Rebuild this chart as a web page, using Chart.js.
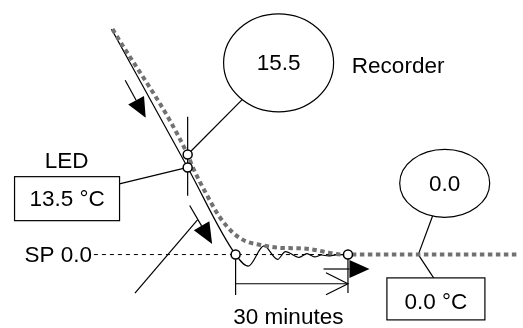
<!DOCTYPE html>
<html>
<head>
<meta charset="utf-8">
<script src="https://cdn.jsdelivr.net/npm/chart.js@4"></script>
<style>
  html, body { margin: 0; padding: 0; background: #fff; }
  canvas { display: block; }
</style>
</head>
<body>
<canvas id="c" width="523" height="328"></canvas>
<script>
// Time in minutes (0 = trace first reaches the set point), temperature in °C.
const ledTime = [-33.13, -12.8, 0, 3.39, 7.57, 11.22, 13.30, 16.96, 19.04, 21.13, 22.96, 24.78, 26.87, 30];
const ledTemp = [34.93, 13.5, 0, -1.79, 1.34, -0.75, 0.45, -0.45, 0.15, -0.37, -0.07, -0.22, -0.04, 0];

const recTime = [-32.87, -12.8, -11.48, -7.83, -4.43, -0.78, 2.61, 6.78, 11.74, 16.96, 20.87, 24.78, 28.17, 75.13];
const recTemp = [34.93, 15.5, 13.58, 9.40, 5.97, 3.43, 2.09, 1.49, 1.04, 0.97, 0.75, 0.30, 0, 0];

const readTime = -12.8;
const recorderReading = 15.5;
const ledReading = 13.5;
const setPoint = 0.0;
const settleMinutes = 30;
const finalTime = 48.78;
const finalRecorder = 0.0;
const finalLed = 0.0;

const markerTime = [readTime, readTime, 0, settleMinutes];
const markerTemp = [recorderReading, ledReading, setPoint, setPoint];

const FONT = '22.5px "Liberation Sans", Arial, Helvetica, sans-serif';

function pts(xs, ys) { return xs.map((x, i) => ({ x, y: ys[i] })); }

function line(ctx, coords) {
  ctx.beginPath();
  ctx.moveTo(coords[0][0], coords[0][1]);
  for (let i = 1; i < coords.length; i++) ctx.lineTo(coords[i][0], coords[i][1]);
  ctx.stroke();
}

function filledArrow(ctx, x1, y1, x2, y2, len, half) {
  const d = Math.hypot(x2 - x1, y2 - y1), ux = (x2 - x1) / d, uy = (y2 - y1) / d;
  const bx = x2 - ux * len, by = y2 - uy * len;
  line(ctx, [[x1, y1], [bx, by]]);
  ctx.beginPath();
  ctx.moveTo(x2, y2);
  ctx.lineTo(bx - uy * half, by + ux * half);
  ctx.lineTo(bx + uy * half, by - ux * half);
  ctx.closePath();
  ctx.fill();
}

function openArrow(ctx, x1, y1, x2, y2, len, half) {
  const d = Math.hypot(x2 - x1, y2 - y1), ux = (x2 - x1) / d, uy = (y2 - y1) / d;
  const bx = x2 - ux * len, by = y2 - uy * len;
  line(ctx, [[x1, y1], [x2, y2]]);
  line(ctx, [[bx - uy * half, by + ux * half], [x2, y2], [bx + uy * half, by - ux * half]]);
}

// point on an ellipse boundary in the direction of (px, py)
function ellipseEdge(cx, cy, rx, ry, px, py) {
  const dx = px - cx, dy = py - cy;
  const s = Math.sqrt((dx / rx) ** 2 + (dy / ry) ** 2);
  return [cx + dx / s, cy + dy / s];
}

const recorderBubble = { t: 11.48, v: 29.70, rx: 55, ry: 49 };
const finalBubble = { t: 55.83, v: 11.04, rx: 45, ry: 34 };

const notes = {
  id: 'notes',
  beforeDraw(chart) {
    const ctx = chart.ctx;
    ctx.save();
    ctx.fillStyle = '#fff';
    ctx.fillRect(0, 0, chart.width, chart.height);
    ctx.restore();
  },
  beforeDatasetsDraw(chart) {
    const ctx = chart.ctx, X = v => chart.scales.x.getPixelForValue(v), Y = v => chart.scales.y.getPixelForValue(v);
    ctx.save();
    ctx.strokeStyle = '#000';
    ctx.fillStyle = '#000';
    ctx.lineWidth = 1.2;

    // reading cursor through both traces
    line(ctx, [[X(readTime), Y(21.34)], [X(readTime), Y(9.1)]]);
    // recorder reading leader
    const rb = [X(recorderBubble.t), Y(recorderBubble.v)];
    const rp = [X(readTime), Y(recorderReading)];
    line(ctx, [rp, ellipseEdge(rb[0], rb[1], recorderBubble.rx, recorderBubble.ry, rp[0], rp[1])]);
    // LED reading leader
    line(ctx, [[X(readTime), Y(ledReading)], [X(-31.3), Y(10.9)]]);

    // final reading leaders
    const fb = [X(finalBubble.t), Y(finalBubble.v)];
    const fp = [X(finalTime), Y(finalRecorder)];
    line(ctx, [ellipseEdge(fb[0], fb[1], finalBubble.rx, finalBubble.ry, fp[0], fp[1]), fp, [X(53.0), Y(-3.73)]]);

    // settling interval
    line(ctx, [[X(0), Y(setPoint)], [X(0), Y(-6.27)]]);
    line(ctx, [[X(settleMinutes), Y(setPoint)], [X(settleMinutes), Y(-5.97)]]);
    openArrow(ctx, X(0), Y(-4.52), X(settleMinutes), Y(-4.52), 22, 11);

    // direction arrows
    filledArrow(ctx, X(-29.48), Y(27.01), X(-24.0), Y(21.19), 20, 9);
    filledArrow(ctx, X(-12.26), Y(7.61), X(-6.26), Y(1.64), 21, 9);
    line(ctx, [[X(-26.87), Y(-5.97)], [X(-10.17), Y(5.37)]]);
    filledArrow(ctx, X(23.48), Y(-2.24), X(35.74), Y(-2.24), 20, 9);
    ctx.restore();
  },
  afterDatasetsDraw(chart) {
    const ctx = chart.ctx, X = v => chart.scales.x.getPixelForValue(v), Y = v => chart.scales.y.getPixelForValue(v);
    ctx.save();
    ctx.strokeStyle = '#000';
    ctx.fillStyle = '#000';
    ctx.lineWidth = 1.2;
    ctx.font = FONT;
    ctx.textBaseline = 'middle';

    const bubble = (b, text) => {
      ctx.beginPath();
      ctx.ellipse(X(b.t), Y(b.v), b.rx, b.ry, 0, 0, Math.PI * 2);
      ctx.fillStyle = '#fff';
      ctx.fill();
      ctx.stroke();
      ctx.fillStyle = '#000';
      ctx.textAlign = 'center';
      ctx.fillText(text, X(b.t), Y(b.v) + 1);
    };
    const box = (t, v, w, h, text, dy) => {
      const cx = X(t), cy = Y(v);
      ctx.fillStyle = '#fff';
      ctx.fillRect(cx - w / 2, cy - h / 2, w, h);
      ctx.strokeRect(cx - w / 2, cy - h / 2, w, h);
      ctx.fillStyle = '#000';
      ctx.textAlign = 'center';
      ctx.fillText(text, cx, cy + dy);
    };

    bubble(recorderBubble, recorderReading.toFixed(1));
    bubble(finalBubble, finalRecorder.toFixed(1));
    box(-45.0, 8.66, 105, 44, ledReading.toFixed(1) + ' \u00B0C', 1);
    box(53.48, -6.87, 98, 42, finalLed.toFixed(1) + ' \u00B0C', 4);

    ctx.textAlign = 'center';
    ctx.fillText('LED', X(-45.13), Y(14.33));
    ctx.textAlign = 'left';
    ctx.fillText('Recorder', X(31.04), Y(29.10));
    ctx.textAlign = 'right';
    ctx.fillText('SP ' + setPoint.toFixed(1), X(-38.35), Y(setPoint) + 1);
    ctx.textAlign = 'center';
    ctx.textBaseline = 'alphabetic';
    ctx.fillText(settleMinutes + ' minutes', X(14.09), Y(-10.75));
    ctx.restore();
  }
};

new Chart(document.getElementById('c'), {
  type: 'line',
  data: {
    datasets: [
      {
        label: 'points',
        data: pts(markerTime, markerTemp),
        showLine: false,
        pointRadius: 4.5,
        pointBackgroundColor: '#fff',
        pointBorderColor: '#000',
        pointBorderWidth: 1.5,
        order: 0
      },
      {
        label: 'Recorder',
        data: pts(recTime, recTemp),
        borderColor: '#717171',
        borderWidth: 4,
        borderDash: [4.5, 3.5],
        borderCapStyle: 'butt',
        cubicInterpolationMode: 'monotone',
        pointRadius: 0,
        fill: false,
        order: 1
      },
      {
        label: 'LED',
        data: pts(ledTime, ledTemp),
        borderColor: '#000',
        borderWidth: 1.2,
        cubicInterpolationMode: 'monotone',
        pointRadius: 0,
        fill: false,
        order: 2
      },
      {
        label: 'SP',
        data: pts([-37.83, settleMinutes], [setPoint, setPoint]),
        borderColor: '#000',
        borderWidth: 1,
        borderDash: [4, 4],
        pointRadius: 0,
        fill: false,
        order: 3
      }
    ]
  },
  options: {
    responsive: false,
    animation: false,
    devicePixelRatio: 1,
    layout: { padding: 0 },
    plugins: { legend: { display: false }, tooltip: { enabled: false } },
    events: [],
    scales: {
      x: { type: 'linear', min: -61.3, max: 75.13, display: false },
      y: { type: 'linear', min: -10.45, max: 38.51, display: false }
    }
  },
  plugins: [notes]
});
</script>
</body>
</html>
